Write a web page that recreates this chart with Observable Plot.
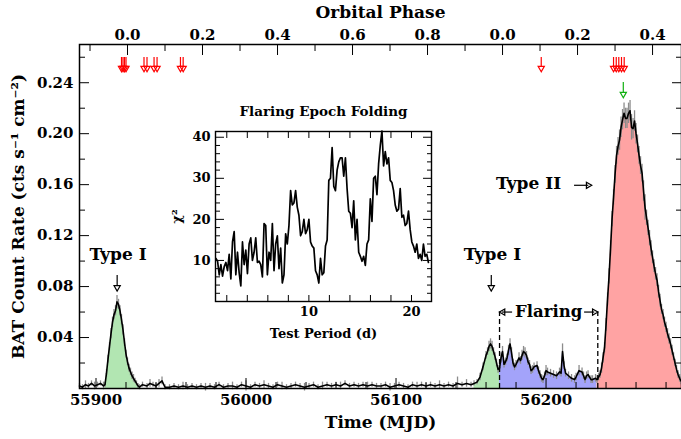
<!DOCTYPE html>
<html><head><meta charset="utf-8">
<script src="https://cdn.jsdelivr.net/npm/d3@7"></script>
<script src="https://cdn.jsdelivr.net/npm/@observablehq/plot@0.6"></script>
<style>
html,body{margin:0;padding:0;background:#fff;}
#wrap{position:relative;width:681px;height:439px;overflow:hidden;}
#main{position:absolute;left:0;top:0;}
#inset{position:absolute;left:165px;top:95px;}
</style></head>
<body><div id="wrap"><div id="main"></div><div id="inset"></div></div>
<script>
// ---------------- light curve (Swift/BAT) ----------------
const mjd = [
  // pre-outburst
  55889,55891,55893,55895,55897,55899,55901,55903,55905,55906,
  // Type I outburst
  55907,55908,55909,55910,55911,55912,55913,55914,55915,55916,55917,55918,55919,55920,55921,55922,55923,55924,55925,55926,55927,55928,55929,
  // quiescence
  55931,55934,55936,55938,55940,55942,55944,55946,55949,55952,
  55955,55958,55961,55964,55967,55970,55973,55976,55979,55982,
  55985,55988,55991,55994,55997,56000,56003,56006,56009,56012,
  56015,56018,56021,56024,56027,56030,56033,56036,56039,56042,
  56045,56048,56051,56054,56057,56060,56063,56066,56069,56072,
  56075,56078,56081,56084,56087,56090,56093,56096,56099,56102,
  56105,56108,56111,56114,56117,56120,56123,56126,56129,56132,
  56135,56138,56141,56144,56147,56150,
  // Type I + flaring + Type II
  56152,56154,56156,56158,56160,
  56161,56162,56163,56164,56165,56166,56167,56168,56169,56170,56171,56172,56173,56174,56175,56176,56177,56178,56179,56180,
  56182,56183,56184,56185,56186,56187,56188,56189,56190,56191,56192,
  56194,56195,56196,56197,56198,56199,56200,56201,
  56203,56205,56207,56209,56210,56211,56212,56213,
  56215,56217,56219,56220,56222,56224,56225,56226,56227,56228,
  56230,56231,56233,56234,56235,
  56236,56237,56238,56239,56240,56241,56242,56243,56244,56245,
  56246,56247,56248,56249,56250,56251,56252,56253,56254,56255,
  56256,56257,56258,56259,56260,56261,56262,56263,56264,56265,
  56266,56267,56268,56269,56270,56271,56272,56273,56274,56275,
  56276,56277,56278,56279,56280,56281,56282,56283,56284,56285,
  56286,56287,56288,56289,56290,56291
];
const rate = [
  0.002,0.001,0.003,0.002,0.004,0.002,0.003,0.004,0.002,0.003,
  0.012,0.023,0.033,0.043,0.052,0.058,0.061,0.068,0.066,0.061,0.054,0.046,0.036,0.027,0.021,0.016,0.013,0.010,0.008,0.006,0.004,0.002,0.001,
  0.003,0.002,0.004,0.003,0.002,0.004,0.006,0.001,0.001,0.002,
  0.001,0.002,0.001,0.002,0.001,0.002,0.001,0.002,0.001,0.003,
  0.001,0.002,0.002,0.001,0.003,0.002,0.001,0.003,0.002,0.003,
  0.002,0.001,0.003,0.002,0.001,0.002,0.003,0.002,0.001,0.002,
  0.003,0.001,0.002,0.003,0.002,0.003,0.002,0.004,0.002,0.003,
  0.002,0.003,0.002,0.003,0.002,0.002,0.003,0.001,0.002,0.003,
  0.002,0.001,0.003,0.002,0.003,0.002,0.003,0.002,0.003,0.002,
  0.003,0.002,0.004,0.003,0.004,0.003,
  0.004,0.005,0.009,0.017,0.026,
  0.029,0.033,0.035,0.033,0.029,0.025,0.020,0.015,0.016,0.024,0.029,0.019,0.021,0.024,0.030,0.035,0.028,0.020,0.017,0.019,
  0.024,0.022,0.026,0.029,0.028,0.026,0.021,0.019,0.014,0.015,0.017,
  0.018,0.014,0.011,0.008,0.007,0.010,0.014,0.013,
  0.012,0.011,0.010,0.013,0.012,0.029,0.018,0.012,
  0.010,0.008,0.007,0.009,0.014,0.013,0.010,0.007,0.010,0.011,
  0.007,0.007,0.008,0.007,0.009,
  0.011,0.016,0.024,0.032,0.050,0.070,0.088,0.110,0.133,0.150,
  0.168,0.183,0.190,0.195,0.205,0.211,0.216,0.212,0.212,0.216,
  0.218,0.205,0.204,0.210,0.200,0.192,0.183,0.175,0.169,0.155,
  0.142,0.134,0.126,0.118,0.110,0.103,0.096,0.090,0.085,0.076,
  0.069,0.062,0.058,0.052,0.048,0.043,0.039,0.035,0.030,0.025,
  0.020,0.015,0.011,0.008,0.006,0.004
];
const rateErr = [
  0.002,0.002,0.003,0.002,0.002,0.003,0.002,0.002,0.003,0.002,
  0.003,0.003,0.003,0.004,0.004,0.004,0.004,0.005,0.004,0.004,0.004,0.004,0.003,0.003,0.003,0.003,0.003,0.003,0.003,0.002,0.002,0.002,0.002,
  0.002,0.002,0.003,0.002,0.002,0.003,0.003,0.002,0.002,0.002,
  0.002,0.003,0.002,0.002,0.002,0.002,0.003,0.002,0.002,0.002,
  0.002,0.002,0.003,0.002,0.002,0.004,0.002,0.002,0.002,0.003,
  0.002,0.002,0.002,0.003,0.002,0.002,0.002,0.002,0.003,0.002,
  0.002,0.002,0.003,0.002,0.002,0.002,0.003,0.002,0.002,0.002,
  0.002,0.002,0.003,0.002,0.002,0.002,0.002,0.003,0.002,0.002,
  0.002,0.002,0.002,0.003,0.002,0.002,0.002,0.002,0.003,0.002,
  0.002,0.002,0.005,0.002,0.003,0.002,
  0.002,0.002,0.003,0.003,0.003,
  0.003,0.004,0.004,0.004,0.003,0.003,0.003,0.003,0.003,0.004,0.004,0.003,0.003,0.003,0.004,0.004,0.004,0.003,0.003,0.003,
  0.004,0.003,0.004,0.004,0.004,0.003,0.003,0.003,0.003,0.003,0.003,
  0.003,0.003,0.003,0.003,0.003,0.003,0.004,0.003,
  0.003,0.003,0.003,0.003,0.003,0.006,0.003,0.003,
  0.003,0.003,0.003,0.003,0.004,0.003,0.003,0.003,0.003,0.003,
  0.003,0.003,0.003,0.003,0.003,
  0.003,0.004,0.004,0.004,0.005,0.005,0.006,0.006,0.006,0.006,
  0.007,0.007,0.007,0.008,0.008,0.008,0.008,0.008,0.008,0.008,
  0.008,0.010,0.008,0.008,0.008,0.007,0.007,0.007,0.007,0.008,
  0.010,0.006,0.006,0.006,0.006,0.005,0.005,0.005,0.005,0.005,
  0.005,0.004,0.004,0.004,0.004,0.004,0.004,0.004,0.004,0.003,
  0.003,0.003,0.003,0.003,0.003,0.003
];

// shaded episodes (MJD windows)
const typeIWindows = [[55906, 55929], [56152, 56169]];
const flaringWindow = [56169, 56234];
const typeIIWindow = [56234, 56291];

// event arrows (MJD)
const redArrowMJD = [55917, 55918, 55919, 55920, 55932, 55934, 55938.7, 55940.7, 55956.3, 55958.1,
                     56196.8, 56245, 56246.8, 56248.5, 56250.3, 56252.1];
const greenArrowMJD = [56251.5];
const typeIArrowMJD = [55914.1, 56163.5];

// axis ticks
const mjdMajor = [55900, 56000, 56100, 56200];
const mjdMinor = [55920,55940,55960,55980,56020,56040,56060,56080,56120,56140,56160,56180,56220,56240,56260,56280];
const rateMajor = [0.04, 0.08, 0.12, 0.16, 0.20, 0.24];
const rateMinor = [0.02, 0.06, 0.10, 0.14, 0.18, 0.22, 0.26];
const phaseMajorMJD = [55921, 55971, 56021, 56071, 56121, 56171, 56221, 56271];
const phaseMajorLabel = ["0.0", "0.2", "0.4", "0.6", "0.8", "0.0", "0.2", "0.4"];
const phaseMinorMJD = [55896, 55946, 55996, 56046, 56096, 56146, 56196, 56246];

// ---------------- inset: epoch folding ----------------
const foldChi2 = [
  10.5,9.8,6.5,9.0,6.2,8.5,9.5,7.5,11.5,5.5,
  14.5,17.0,6.5,12.0,7.0,3.8,14.5,9.0,12.5,6.8,
  14.0,15.5,10.0,12.0,15.5,9.5,9.8,9.0,6.0,19.0,
  18.5,6.5,12.0,10.0,19.0,7.5,14.0,16.0,8.0,13.0,
  4.5,6.5,16.5,14.0,18.5,27.0,23.5,24.0,27.0,23.0,
  21.0,16.0,17.0,20.0,16.5,17.5,20.0,14.5,13.5,13.0,
  7.5,6.5,4.5,10.5,6.5,7.0,13.5,15.0,29.5,30.0,
  37.5,28.0,27.0,32.0,34.0,35.0,35.0,30.5,35.0,27.5,
  22.0,21.5,18.0,24.5,15.0,20.0,12.0,11.0,9.8,11.0,
  8.8,14.0,15.0,25.0,19.5,30.0,30.5,26.0,33.5,38.0,
  41.5,33.0,36.5,33.5,35.0,29.5,29.0,27.0,23.5,22.0,
  22.5,27.5,20.5,21.0,18.5,19.0,22.0,17.5,14.5,13.5,
  12.0,14.0,10.5,11.5,10.0,14.0,11.0,11.5,9.5
];
const foldPeriodStart = 0.94, foldPeriodStep = 0.1618; // evenly spaced trial periods (d)
const foldXTicks = [2,4,6,8,10,12,14,16,18,20];
const foldXLabels = [10, 20];
const foldYMajor = [10, 20, 30, 40];
const foldYMinor = [2,4,6,8,12,14,16,18,22,24,26,28,32,34,36,38];

if (mjd.length !== rate.length || mjd.length !== rateErr.length) {
  throw new Error(`length mismatch ${mjd.length} ${rate.length} ${rateErr.length}`);
}
const lc = mjd.map((m, i) => ({mjd: m, rate: rate[i], err: rateErr[i]}));
const inWin = (w) => lc.filter(d => d.mjd >= w[0] && d.mjd <= w[1]);

const FONT = "DejaVu Serif";
const GREEN = "#b2e6b2", BLUE = "#a3a3fa", RED = "#ffa3a3";

// hollow arrow head helper
const head = (data, o) => Plot.dot(data, {symbol: "triangle", r: 2.3, fill: "none", strokeWidth: 1.2, ...o});
const label = (txt, o) => Plot.text([txt], {textAnchor: "middle", lineAnchor: "middle", ...o});

const mainPlot = Plot.plot({
  width: 681, height: 439,
  marginLeft: 79, marginRight: 0, marginTop: 44, marginBottom: 51,
  x: {domain: [55889, 56290.3], label: null},
  y: {domain: [0, 0.27], label: null},
  style: {fontFamily: FONT, fontWeight: "bold", fontSize: "15px", background: "transparent", color: "black"},
  marks: [
    ...typeIWindows.map(w => Plot.areaY(inWin(w), {x: "mjd", y: "rate", fill: GREEN})),
    Plot.areaY(inWin(flaringWindow), {x: "mjd", y: "rate", fill: BLUE}),
    Plot.areaY(inWin(typeIIWindow), {x: "mjd", y: "rate", fill: RED}),
    Plot.ruleX(lc, {x: "mjd", y1: d => d.rate - d.err, y2: d => d.rate + d.err, stroke: "#8c8c8c", strokeWidth: 1.3}),
    Plot.line(lc, {x: "mjd", y: "rate", stroke: "black", strokeWidth: 1.6}),

    // bottom axis
    Plot.axisX({anchor: "bottom", ticks: mjdMajor, tickSize: 0, tickPadding: 6, tickFormat: d => String(d), label: null, fontSize: 15}),
    Plot.axisX({anchor: "bottom", ticks: mjdMajor, tickSize: -10, tickFormat: () => "", label: null}),
    Plot.axisX({anchor: "bottom", ticks: mjdMinor, tickSize: -6, tickFormat: () => "", label: null}),
    // top axis (orbital phase)
    Plot.axisX({anchor: "top", ticks: phaseMajorMJD, tickSize: 0, tickPadding: 5, tickFormat: d => phaseMajorLabel[phaseMajorMJD.indexOf(d)], label: null, fontSize: 15}),
    Plot.axisX({anchor: "top", ticks: phaseMajorMJD, tickSize: -10, tickFormat: () => "", label: null}),
    Plot.axisX({anchor: "top", ticks: phaseMinorMJD, tickSize: -6, tickFormat: () => "", label: null}),
    // left axis
    Plot.axisY({anchor: "left", ticks: rateMajor, tickSize: 0, tickPadding: 6, tickFormat: d3.format(".2f"), label: null, fontSize: 15}),
    Plot.axisY({anchor: "left", ticks: rateMajor, tickSize: -10, tickFormat: () => "", label: null}),
    Plot.axisY({anchor: "left", ticks: rateMinor, tickSize: -6, tickFormat: () => "", label: null}),
    // right axis
    Plot.axisY({anchor: "right", ticks: rateMajor, tickSize: -10, tickFormat: () => "", label: null}),
    Plot.axisY({anchor: "right", ticks: rateMinor, tickSize: -6, tickFormat: () => "", label: null}),
    Plot.frame({stroke: "black", strokeWidth: 1.5}),

    // axis titles
    label("Time (MJD)", {frameAnchor: "bottom", dy: 34, fontSize: 17}),
    label("Orbital Phase", {frameAnchor: "top", dy: -32, fontSize: 17}),
    label("BAT Count Rate (cts s⁻¹ cm⁻²)", {frameAnchor: "left", dx: -61, rotate: -90, fontSize: 17}),

    // red / green event arrows
    Plot.ruleX(redArrowMJD, {x: d => d, insetTop: 13, insetBottom: 322, stroke: "red", strokeWidth: 1.2}),
    head(redArrowMJD, {x: d => d, frameAnchor: "top", dy: 23.6, rotate: 180, stroke: "red"}),
    Plot.ruleX(greenArrowMJD, {x: d => d, insetTop: 38, insetBottom: 296, stroke: "#10b010", strokeWidth: 1.2}),
    head(greenArrowMJD, {x: d => d, frameAnchor: "top", dy: 49.6, rotate: 180, stroke: "#10b010"}),

    // Type I annotations
    Plot.text([[55914.7, 0.105], [56164.3, 0.105]], {x: d => d[0], y: d => d[1], text: () => "Type I", fontSize: 17}),
    Plot.ruleX(typeIArrowMJD, {x: d => d, insetTop: 231, insetBottom: 103, stroke: "black", strokeWidth: 1.2}),
    head(typeIArrowMJD, {x: d => d, frameAnchor: "top", dy: 243, rotate: 180, stroke: "black"}),

    // Type II annotation
    Plot.text([[56188.3, 0.1605]], {x: d => d[0], y: d => d[1], text: () => "Type II", fontSize: 17}),
    Plot.ruleY([0.1595], {y: d => d, x1: 56219, x2: 56228.5, stroke: "black", strokeWidth: 1.2}),
    head([[56228.1, 0.1595]], {x: d => d[0], y: d => d[1], rotate: 90, stroke: "black"}),

    // Flaring annotation
    Plot.ruleX([flaringWindow[0], 56234.5], {x: d => d, y1: 0, y2: 0.06, stroke: "black", strokeWidth: 1.3, strokeDasharray: "5,3"}),
    Plot.text([[56201.7, 0.0605]], {x: d => d[0], y: d => d[1], text: () => "Flaring", fontSize: 16.5}),
    Plot.ruleY([0.06], {y: d => d, x1: 56171, x2: 56177.7, stroke: "black", strokeWidth: 1.2}),
    Plot.ruleY([0.06], {y: d => d, x1: 56225.7, x2: 56232.5, stroke: "black", strokeWidth: 1.2}),
    head([[56171.3, 0.06]], {x: d => d[0], y: d => d[1], rotate: -90, stroke: "black"}),
    head([[56232.2, 0.06]], {x: d => d[0], y: d => d[1], rotate: 90, stroke: "black"})
  ]
});
document.getElementById("main").append(mainPlot);

const fold = foldChi2.map((c, i) => ({period: foldPeriodStart + foldPeriodStep * i, chi2: c}));
const insetPlot = Plot.plot({
  width: 275, height: 250,
  marginLeft: 50, marginRight: 9, marginTop: 36, marginBottom: 44,
  x: {domain: [0.9, 21.95], label: null},
  y: {domain: [0, 41.4], label: null},
  style: {fontFamily: FONT, fontWeight: "bold", fontSize: "13px", background: "transparent", color: "black"},
  marks: [
    Plot.line(fold, {x: "period", y: "chi2", stroke: "black", strokeWidth: 1.7}),
    Plot.axisX({anchor: "bottom", ticks: foldXLabels, tickSize: 0, tickPadding: 5, tickFormat: d => String(d), label: null, fontSize: 13}),
    Plot.axisX({anchor: "bottom", ticks: foldXTicks, tickSize: -6, tickFormat: () => "", label: null}),
    Plot.axisX({anchor: "top", ticks: foldXTicks, tickSize: -6, tickFormat: () => "", label: null}),
    Plot.axisY({anchor: "left", ticks: foldYMajor, tickSize: 0, tickPadding: 5, tickFormat: d => String(d), label: null, fontSize: 13}),
    Plot.axisY({anchor: "left", ticks: foldYMajor, tickSize: -9, tickFormat: () => "", label: null}),
    Plot.axisY({anchor: "left", ticks: foldYMinor, tickSize: -5, tickFormat: () => "", label: null}),
    Plot.axisY({anchor: "right", ticks: foldYMajor, tickSize: -9, tickFormat: () => "", label: null}),
    Plot.axisY({anchor: "right", ticks: foldYMinor, tickSize: -5, tickFormat: () => "", label: null}),
    Plot.frame({stroke: "black", strokeWidth: 1.4}),
    label("Flaring Epoch Folding", {frameAnchor: "top", dy: -20, fontSize: 13.5}),
    label("Test Period (d)", {frameAnchor: "bottom", dy: 32, fontSize: 13}),
    label("χ²", {frameAnchor: "left", dx: -39, rotate: -90, fontSize: 13})
  ]
});
document.getElementById("inset").append(insetPlot);
</script>
</body></html>
